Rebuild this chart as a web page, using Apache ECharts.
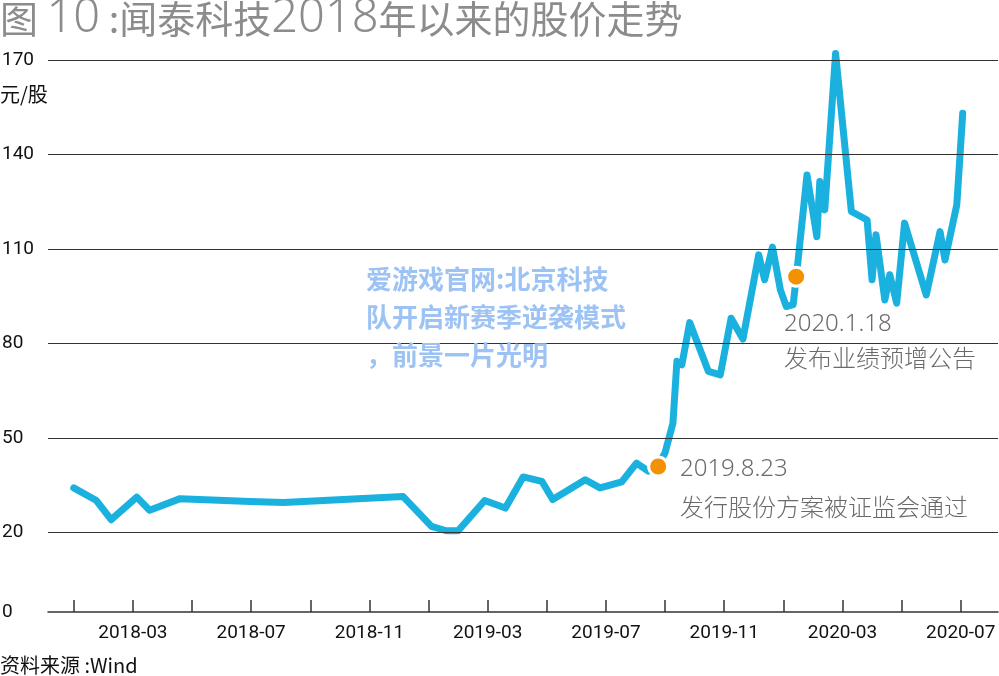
<!DOCTYPE html>
<html>
<head>
<meta charset="utf-8">
<script src="https://cdn.jsdelivr.net/npm/echarts@6/dist/echarts.min.js"></script>
<style>
  html, body { margin: 0; padding: 0; background: #fff; }
  #chart { width: 999px; height: 676px; }
</style>
</head>
<body>
<div id="chart"></div>
<script>
// 闻泰科技 股价 (元/股)
const dates = ['2018-01-01', '2018-01-24', '2018-02-09', '2018-03-05', '2018-03-18', '2018-04-19', '2018-06-30', '2018-08-04',
  '2018-12-05', '2019-01-04', '2019-01-19', '2019-02-01', '2019-02-28', '2019-03-19', '2019-04-07', '2019-04-26',
  '2019-05-07', '2019-06-10', '2019-06-25', '2019-07-17', '2019-08-02', '2019-08-14', '2019-08-23', '2019-09-01',
  '2019-09-09', '2019-09-13', '2019-09-18', '2019-09-26', '2019-10-15', '2019-10-27', '2019-11-08', '2019-11-20',
  '2019-12-06', '2019-12-12', '2019-12-20', '2019-12-28', '2020-01-04', '2020-01-11', '2020-01-16', '2020-01-25',
  '2020-02-05', '2020-02-08', '2020-02-13', '2020-02-24', '2020-03-10', '2020-03-26', '2020-04-01', '2020-04-05',
  '2020-04-14', '2020-04-19', '2020-04-26', '2020-05-04', '2020-05-26', '2020-06-10', '2020-06-15', '2020-06-27',
  '2020-07-03'];
const prices = [34.1, 30.1, 24.0, 31.2, 27.0, 30.7, 29.8, 29.5,
  31.4, 21.9, 20.5, 20.5, 30.1, 27.7, 37.6, 36.2,
  30.4, 36.7, 34.1, 36.0, 42.0, 39.4, 40.9, 45.3,
  54.7, 74.3, 73.2, 86.6, 71.1, 70.0, 88.0, 81.4,
  108.1, 100.2, 110.6, 97.0, 91.7, 92.3, 106.5, 133.5,
  113.9, 131.4, 122.4, 172.1, 121.9, 119.2, 100.2, 114.5,
  93.8, 101.8, 92.8, 118.2, 95.4, 115.5, 106.5, 124.0,
  153.1];

// events marked with orange dots
const eventDates = ['2019-08-24', '2020-01-14'];
const eventPrices = [40.9, 101.2];
const eventTitles = ['2019.8.23', '2020.1.18'];
const eventTexts = ['发行股份方案被证监会通过', '发布业绩预增公告'];

// axis ticks
const yTicks = [20, 50, 80, 110, 140, 170];
const yMin = -5.3;
const xTickMonths = [0, 2, 4, 6, 8, 10, 12, 14, 16, 18, 20, 22, 24, 26, 28, 30];
const xLabelMonths = [2, 6, 10, 14, 18, 22, 26, 30];

const watermark = ['爱游戏官网:北京科技', '队开启新赛季逆袭模式', '，前景一片光明'];

// month index counted from 2018-01
function monthIndex(d) {
  const [y, m, dd] = d.split('-').map(Number);
  return (y - 2018) * 12 + (m - 1) + (dd - 1) / 30;
}
function monthLabel(v) {
  const y = 2018 + Math.floor(v / 12);
  const m = Math.round(v % 12) + 1;
  return y + '-' + String(m).padStart(2, '0');
}

const axisFont = "Roboto, 'Noto Sans', sans-serif";
const cjk = "'Noto Sans CJK SC', 'Noto Sans', sans-serif";

const lineData = dates.map((d, i) => [monthIndex(d), prices[i]]);
const eventData = eventDates.map((d, i) => [monthIndex(d), eventPrices[i]]);

const chart = echarts.init(document.getElementById('chart'), null, { renderer: 'canvas' });

const options = {
  animation: false,
  backgroundColor: '#fff',
  grid: { left: 48, right: 1, top: 60, bottom: 64, outerBoundsMode: 'none', containLabel: false },
  xAxis: {
    type: 'value',
    min: -0.87,
    max: 31.26,
    axisLine: { show: true, onZero: false, lineStyle: { color: '#333', width: 1.5 } },
    axisTick: {
      show: true,
      inside: true,
      length: 12,
      customValues: xTickMonths,
      lineStyle: { color: '#333', width: 1.5 }
    },
    axisLabel: {
      customValues: xLabelMonths,
      formatter: monthLabel,
      color: '#111',
      fontFamily: axisFont,
      fontSize: 19,
      margin: 12
    },
    splitLine: { show: false }
  },
  yAxis: {
    type: 'value',
    min: yMin,
    max: 170,
    axisLine: { show: false },
    axisTick: { show: false },
    splitLine: { show: false },
    axisLabel: {
      customValues: [yMin].concat(yTicks),
      formatter: function (v) {
        return v < 0 ? '0' : String(v);
      },
      align: 'left',
      margin: 46,
      color: '#111',
      fontFamily: axisFont,
      fontSize: 19
    }
  },
  series: [
    {
      // horizontal grid lines
      type: 'line',
      data: [],
      silent: true,
      z: 1,
      markLine: {
        silent: true,
        symbol: 'none',
        label: { show: false },
        lineStyle: { color: '#333', width: 1, type: 'solid' },
        data: yTicks.map(v => ({ yAxis: v }))
      }
    },
    {
      name: '股价',
      type: 'line',
      data: lineData,
      showSymbol: false,
      clip: false,
      z: 3,
      lineStyle: { color: '#1bb1df', width: 7, cap: 'round', join: 'round' }
    },
    {
      type: 'scatter',
      data: eventData,
      symbolSize: 19,
      clip: false,
      z: 4,
      itemStyle: { color: '#f39200', opacity: 1, borderColor: '#fff', borderWidth: 3 }
    }
  ],
  graphic: [
    {
      type: 'text', left: 0, top: -5,
      style: {
        text: '{a|图} {d|10} {a|:闻泰科技}{d|2018}{a|年以来的股价走势}',
        rich: {
          a: { fill: '#8c8c8c', fontSize: 38, fontFamily: cjk },
          d: { fill: '#8c8c8c', fontSize: 47, fontWeight: 300, fontFamily: "'Noto Sans', sans-serif" }
        },
        font: '38px ' + cjk,
        fill: '#8c8c8c'
      }
    },
    {
      type: 'text', left: 0, top: 84,
      style: { text: '元/股', fill: '#111', font: '20px ' + cjk }
    },
    {
      type: 'text', left: 0, top: 655,
      style: { text: '资料来源 :Wind', fill: '#111', font: '20px ' + cjk }
    },
    {
      type: 'text', left: 680, top: 457,
      style: { text: eventTitles[0], fill: '#6a6a6a', font: "300 24px 'Noto Sans', sans-serif" }
    },
    {
      type: 'text', left: 680, top: 495,
      style: { text: eventTexts[0], fill: '#6a6a6a', font: '300 24px ' + cjk }
    },
    {
      type: 'text', left: 784, top: 312,
      style: { text: eventTitles[1], fill: '#6a6a6a', font: "300 24px 'Noto Sans', sans-serif" }
    },
    {
      type: 'text', left: 784, top: 346,
      style: { text: eventTexts[1], fill: '#6a6a6a', font: '300 24px ' + cjk }
    },
    {
      type: 'text', left: 366, top: 260, z: 10,
      style: {
        text: watermark.join('\n'),
        fill: '#9dc3f5',
        font: 'bold 26px ' + cjk,
        lineHeight: 38
      }
    }
  ]
};

chart.setOption(options);
</script>
</body>
</html>
